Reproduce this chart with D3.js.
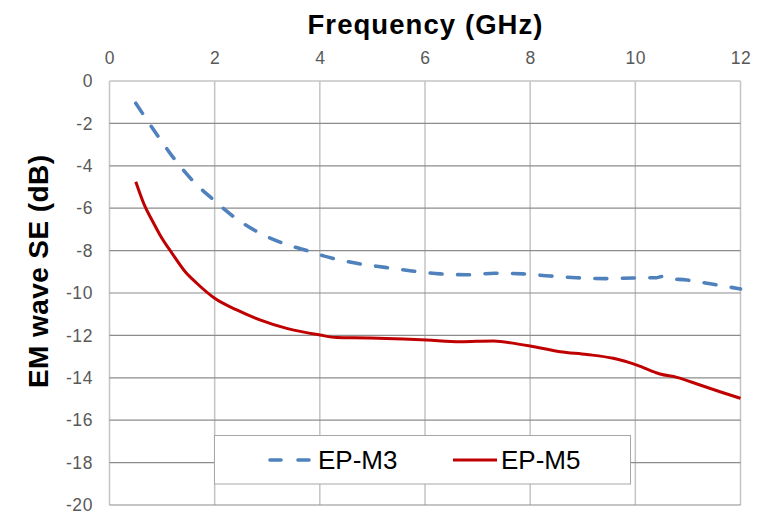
<!DOCTYPE html>
<html><head><meta charset="utf-8">
<script src="https://cdn.jsdelivr.net/npm/d3@7"></script>
<style>body{margin:0;background:#fff}svg{display:block}text{font-family:"Liberation Sans",Arial,Helvetica,sans-serif}</style>
</head><body><svg id="c" width="763" height="511"></svg>
<script>
const xTicks = [0,2,4,6,8,10,12];
const yTicks = [0,-2,-4,-6,-8,-10,-12,-14,-16,-18,-20];
const seriesNames = ["EP-M3","EP-M5"];
const freqM3 = [0.5,0.93,1.25,1.57,1.98,2.36,2.8,3.31,3.82,4.07,4.7,5.24,5.75,6.29,6.79,7.33,7.87,8.38,8.88,9.42,9.96,10.4,10.5,10.6,10.98,11.48,12];
const seM3 =   [-1.05,-2.63,-3.73,-4.67,-5.61,-6.4,-7.1,-7.66,-8.05,-8.25,-8.6,-8.79,-8.96,-9.1,-9.14,-9.07,-9.1,-9.2,-9.28,-9.32,-9.29,-9.28,-9.22,-9.3,-9.39,-9.59,-9.81];
const freqM5 = [0.5,0.65,0.84,0.96,1.19,1.44,1.66,2.0,2.42,2.86,3.37,4.0,4.32,4.96,5.59,6.03,6.67,7.3,7.75,8.0,8.57,9.08,9.58,10.03,10.47,10.79,11.23,11.61,12];
const seM5 =   [-4.75,-5.77,-6.71,-7.26,-8.13,-9.0,-9.54,-10.25,-10.8,-11.27,-11.67,-11.98,-12.1,-12.12,-12.17,-12.22,-12.3,-12.26,-12.4,-12.5,-12.77,-12.9,-13.08,-13.4,-13.82,-13.98,-14.34,-14.66,-14.97];

const W=763,H=511, m={l:109.5,r:22.5,t:81,b:6};
const svg=d3.select("#c");
const x=d3.scaleLinear().domain([0,12]).range([m.l,W-m.r]);
const y=d3.scaleLinear().domain([0,-20]).range([m.t,H-m.b]);

// vertical grid
svg.append("g").selectAll("line").data(xTicks).join("line")
 .attr("x1",d=>x(d)).attr("x2",d=>x(d)).attr("y1",y(0)).attr("y2",y(-20))
 .attr("stroke","#c4c4c4").attr("stroke-width",1.5);
// horizontal grid
svg.append("g").selectAll("line").data(yTicks).join("line")
 .attr("x1",x(0)).attr("x2",x(12)).attr("y1",d=>y(d)).attr("y2",d=>y(d))
 .attr("stroke",d=>d===0?"#c4c4c4":"#8c8c8c").attr("stroke-width",d=>d===0?1.5:1.2);

// top axis labels
const xa=d3.axisTop(x).tickValues(xTicks).tickSize(0).tickPadding(0).tickFormat(d3.format("d"));
const gx=svg.append("g").attr("transform",`translate(0,${m.t-17})`).call(xa);
gx.select(".domain").remove();
gx.selectAll("text").attr("font-size",17.5).attr("fill","#595959").attr("font-family","Liberation Sans, Arial, sans-serif").attr("letter-spacing",0.6);
// left axis labels
const ya=d3.axisLeft(y).tickValues(yTicks).tickSize(0).tickPadding(0).tickFormat(d=>d===0?"0":"-"+Math.abs(d));
const gy=svg.append("g").attr("transform",`translate(93,0)`).call(ya);
gy.select(".domain").remove();
gy.selectAll("text").attr("font-size",17.5).attr("fill","#595959").attr("font-family","Liberation Sans, Arial, sans-serif").attr("letter-spacing",0.6);

// lines
const line=d3.line().x(d=>x(d[0])).y(d=>y(d[1])).curve(d3.curveMonotoneX);
const dM3=freqM3.map((f,i)=>[f,seM3[i]]);
const dM5=freqM5.map((f,i)=>[f,seM5[i]]);
svg.append("path").attr("d",line(dM3)).attr("fill","none").attr("stroke","#4f81bd")
 .attr("stroke-width",3.6).attr("stroke-dasharray","12 15.5").attr("stroke-linecap","round");
svg.append("path").attr("d",line(dM5)).attr("fill","none").attr("stroke","#c00000")
 .attr("stroke-width",3);

// legend
const lg=svg.append("g");
lg.append("rect").attr("x",214.5).attr("y",435.5).attr("width",416).attr("height",48.5)
 .attr("fill","#fff").attr("stroke","#a6a6a6").attr("stroke-width",1);
lg.append("line").attr("x1",270).attr("x2",312).attr("y1",460).attr("y2",460)
 .attr("stroke","#4f81bd").attr("stroke-width",3.6).attr("stroke-dasharray","11 17").attr("stroke-linecap","round");
lg.append("text").attr("x",318).attr("y",468.5).attr("font-size",26).attr("fill","#000").text(seriesNames[0]);
lg.append("line").attr("x1",453).attr("x2",497).attr("y1",460).attr("y2",460)
 .attr("stroke","#c00000").attr("stroke-width",3);
lg.append("text").attr("x",501).attr("y",468.5).attr("font-size",26).attr("fill","#000").text(seriesNames[1]);

// titles
svg.append("text").attr("x",425).attr("y",33.5).attr("text-anchor","middle")
 .attr("font-size",27.5).attr("font-weight","bold").attr("fill","#000")
 .attr("textLength",235).attr("lengthAdjust","spacing").text("Frequency (GHz)");
svg.append("text").attr("transform","translate(48,271.5) rotate(-90)").attr("text-anchor","middle")
 .attr("font-size",28).attr("font-weight","bold").attr("fill","#000")
 .attr("textLength",233).attr("lengthAdjust","spacing").text("EM wave SE (dB)");
</script></body></html>
